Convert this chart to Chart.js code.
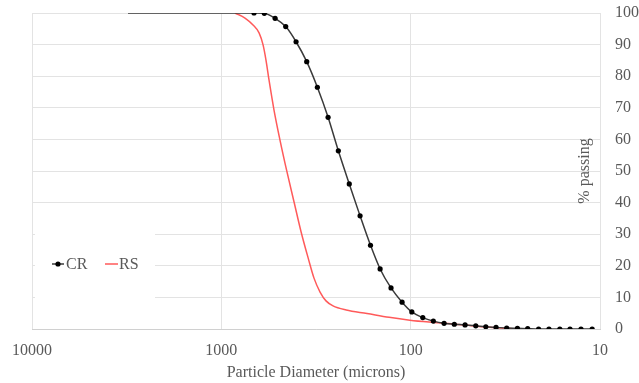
<!DOCTYPE html>
<html>
<head>
<meta charset="utf-8">
<script src="https://cdn.jsdelivr.net/npm/chart.js@4/dist/chart.umd.min.js"></script>
<style>
html,body{margin:0;padding:0;background:#fff;}
#wrap{width:639px;height:383px;position:relative;}
</style>
</head>
<body>
<div id="wrap"><canvas id="c" width="639" height="383"></canvas></div>
<script>
// ---- data ----
const crDiam = [3111, 672, 593, 520, 457, 403, 354, 311, 273, 241, 211, 185, 163, 145, 127, 111, 98.6, 86.3, 75.9, 66.6, 58.8, 51.6, 45.3, 40.1, 35.4, 31.1, 27.3, 24.1, 21.1, 18.6, 16.3, 14.4, 12.6, 11.0];
const crPass = [100, 100, 99.9, 98.3, 95.7, 90.9, 84.6, 76.5, 67.0, 56.4, 45.9, 35.8, 26.5, 19.0, 13.0, 8.5, 5.4, 3.6, 2.5, 1.8, 1.5, 1.3, 1.0, 0.7, 0.5, 0.3, 0.2, 0.1, 0, 0, 0, 0, 0, 0];
const rsDiam = [847, 750, 680, 632, 602, 581, 560, 527, 490, 450, 413, 379, 348, 324, 301, 280, 257, 219, 170, 130, 101, 80, 59.5, 45, 36.6, 30, 26.4];
const rsPass = [100, 98.4, 96.2, 93.7, 89.9, 85.1, 78.8, 69.3, 59.8, 49.7, 40.2, 30.7, 22.5, 16.1, 11.7, 8.9, 7.3, 6.0, 4.9, 3.7, 2.8, 2.2, 1.6, 0.9, 0.5, 0.15, 0];
const xTicks = [10, 100, 1000, 10000];
const seriesNames = ['CR', 'RS'];
const xTitle = 'Particle Diameter (microns)';
const yTitle = '% passing';

const toPts = (xs, ys) => xs.map((x, i) => ({x: x, y: ys[i]}));
const crColor = '#3a3a3a';
const rsColor = '#ff5a5a';
const txtColor = '#595959';
const gridColor = '#e3e3e3';
const FONT = "'Liberation Serif', 'DejaVu Serif', serif";

const overlay = {
  id: 'overlay',
  beforeDatasetsDraw(chart) {
    const ctx = chart.ctx, a = chart.chartArea;
    ctx.save();
    ctx.fillStyle = '#fff';
    ctx.fillRect(a.left + 3, a.bottom - 112, 120, 104);
    ctx.restore();
  },
  afterDatasetsDraw(chart) {
    const ctx = chart.ctx, a = chart.chartArea;
    ctx.save();
    const ly = 264;
    ctx.font = "16px " + FONT;
    ctx.textBaseline = 'middle';
    ctx.textAlign = 'left';
    // CR
    ctx.strokeStyle = crColor; ctx.lineWidth = 1.5;
    ctx.beginPath(); ctx.moveTo(52, ly); ctx.lineTo(64, ly); ctx.stroke();
    ctx.fillStyle = '#000';
    ctx.beginPath(); ctx.arc(58, ly, 2.6, 0, Math.PI * 2); ctx.fill();
    ctx.fillStyle = txtColor;
    ctx.fillText(seriesNames[0], 66, ly + 1);
    // RS
    ctx.strokeStyle = rsColor; ctx.lineWidth = 1.5;
    ctx.beginPath(); ctx.moveTo(105, ly); ctx.lineTo(118, ly); ctx.stroke();
    ctx.fillStyle = txtColor;
    ctx.fillText(seriesNames[1], 119, ly + 1);
    // y-axis title inside right edge
    ctx.translate(585, (a.top + a.bottom) / 2);
    ctx.rotate(-Math.PI / 2);
    ctx.textAlign = 'center';
    ctx.fillText(yTitle, 0, 0);
    ctx.restore();
  }
};

new Chart(document.getElementById('c'), {
  type: 'line',
  data: {
    datasets: [
      {
        label: seriesNames[0],
        data: toPts(crDiam, crPass),
        borderColor: crColor,
        backgroundColor: '#000',
        borderWidth: 1.5,
        pointRadius: crDiam.map((d, i) => i === 0 ? 0 : 2.6),
        pointBorderWidth: 0,
        pointBackgroundColor: '#000',
        cubicInterpolationMode: 'monotone'
      },
      {
        label: seriesNames[1],
        data: toPts(rsDiam, rsPass),
        borderColor: rsColor,
        borderWidth: 1.5,
        pointRadius: 0,
        cubicInterpolationMode: 'monotone'
      }
    ]
  },
  plugins: [overlay],
  options: {
    responsive: false,
    animation: false,
    layout: {padding: {left: 32, top: 13, right: 0, bottom: 0}},
    plugins: {legend: {display: false}, tooltip: {enabled: false}},
    scales: {
      x: {
        type: 'logarithmic',
        reverse: true,
        min: 10, max: 10000,
        afterBuildTicks(s) { s.ticks = xTicks.map(v => ({value: v})); },
        afterFit(s) { s.height = 54; s.paddingLeft = 0; s.paddingRight = 0; },
        grid: {color: gridColor, drawTicks: false, lineWidth: 1},
        border: {color: '#d0d0d0'},
        ticks: {
          color: txtColor, padding: 12,
          font: {family: FONT, size: 16},
          maxRotation: 0, autoSkip: false,
          callback: v => String(v)
        },
        title: {display: true, text: xTitle, color: txtColor, font: {family: FONT, size: 16}, padding: {top: 0, bottom: 1}}
      },
      y: {
        position: 'right',
        min: 0, max: 100,
        afterFit(s) { s.width = 39; s.paddingTop = 0; s.paddingBottom = 0; },
        grid: {color: gridColor, drawTicks: false, lineWidth: 1},
        border: {display: false},
        ticks: {stepSize: 10, color: txtColor, padding: 15, font: {family: FONT, size: 16}}
      }
    }
  }
});
</script>
</body>
</html>
